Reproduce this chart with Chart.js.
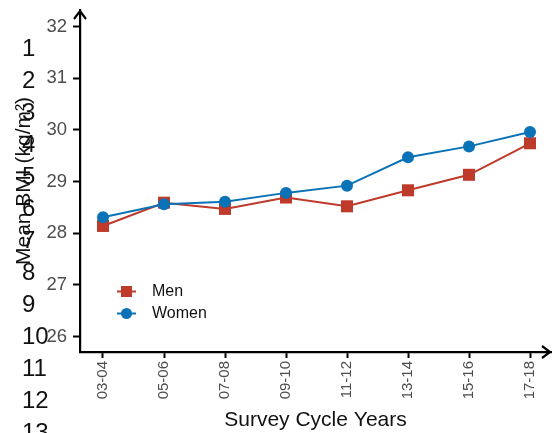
<!DOCTYPE html>
<html>
<head>
<meta charset="utf-8">
<script src="https://cdn.jsdelivr.net/npm/chart.js@4.4.1/dist/chart.umd.min.js"></script>
<style>
  html, body { margin:0; padding:0; background:#fff; overflow:hidden; }
  #wrap { position:relative; width:554px; height:433px; overflow:hidden; }
  canvas { position:absolute; left:0; top:0; }
  #nums { position:absolute; left:22px; top:31.5px; font-family:"Liberation Sans", Arial, sans-serif;
          font-size:24px; line-height:32px; color:#111; white-space:pre; pointer-events:none; }
</style>
</head>
<body>
<div id="wrap">
  <canvas id="c" width="554" height="433"></canvas>
  <div id="nums"></div>
</div>
<script>
const categories = ["03-04","05-06","07-08","09-10","11-12","13-14","15-16","17-18"];
const menValues   = [28.14, 28.59, 28.47, 28.69, 28.52, 28.83, 29.13, 29.74];
const womenValues = [28.31, 28.56, 28.61, 28.78, 28.92, 29.47, 29.68, 29.96];
const yTickValues = [26, 27, 28, 29, 30, 31, 32];
const lineNumbers = ["1","2","3","4","5","6","7","8","9","10","11","12","13"];

document.getElementById('nums').textContent = lineNumbers.join("\n");

const FONT = "'Liberation Sans', Arial, sans-serif";
const MEN = '#BE3A2A', WOMEN = '#0A72B6';

const toPts = arr => arr.map((v, i) => ({ x: i, y: v }));

const decor = {
  id: 'decor',
  afterDraw(chart) {
    const ctx = chart.ctx, a = chart.chartArea;
    ctx.save();
    ctx.strokeStyle = '#000'; ctx.lineWidth = 2.2; ctx.lineCap = 'butt'; ctx.lineJoin = 'miter';
    ctx.beginPath();
    ctx.moveTo(a.left - 6, a.top + 9); ctx.lineTo(a.left, a.top + 1); ctx.lineTo(a.left + 6, a.top + 9);
    ctx.stroke();
    ctx.beginPath();
    ctx.moveTo(a.right - 9, a.bottom - 6); ctx.lineTo(a.right - 1, a.bottom); ctx.lineTo(a.right - 9, a.bottom + 6);
    ctx.stroke();
    const items = chart.data.datasets;
    items.forEach((ds, i) => {
      const y = a.bottom - 60.5 + i * 22;
      const x0 = a.left + 37, x1 = a.left + 56, xm = (x0 + x1) / 2;
      ctx.strokeStyle = ds.borderColor; ctx.lineWidth = 2;
      ctx.beginPath(); ctx.moveTo(x0, y); ctx.lineTo(x1, y); ctx.stroke();
      ctx.fillStyle = ds.backgroundColor;
      ctx.beginPath();
      if (ds.pointStyle === 'rect') {
        ctx.fillRect(xm - 5.5, y - 5.5, 11, 11);
      } else {
        ctx.arc(xm, y, 5.5, 0, Math.PI * 2); ctx.fill();
      }
      ctx.fillStyle = '#111'; ctx.font = '16px ' + FONT; ctx.textBaseline = 'middle'; ctx.textAlign = 'left';
      ctx.fillText(ds.label, a.left + 72, y);
    });
    ctx.restore();
  }
};

function zeroPad(s) { s.paddingLeft = 0; s.paddingRight = 0; s.paddingTop = 0; s.paddingBottom = 0; }

new Chart(document.getElementById('c'), {
  type: 'line',
  data: {
    datasets: [
      { label: 'Men', data: toPts(menValues), borderColor: MEN, backgroundColor: MEN, order: 2,
        pointStyle: 'rect', pointRadius: 8.5, pointHoverRadius: 8.5, borderWidth: 2, pointBorderWidth: 0 },
      { label: 'Women', data: toPts(womenValues), borderColor: WOMEN, backgroundColor: WOMEN, order: 1,
        pointStyle: 'circle', pointRadius: 6, pointHoverRadius: 6, borderWidth: 2, pointBorderWidth: 0 }
    ]
  },
  plugins: [decor],
  options: {
    responsive: false,
    animation: false,
    layout: { autoPadding: false, padding: { top: 10, right: 3, left: 0, bottom: 0 } },
    plugins: { legend: { display: false }, tooltip: { enabled: false } },
    scales: {
      x: {
        type: 'linear', min: -0.377, max: 7.344,
        afterFit(s) { s.height = 81; zeroPad(s); },
        afterBuildTicks(s) { s.ticks = categories.map((_, i) => ({ value: i })); },
        ticks: { callback: (v) => categories[v] ?? '', minRotation: 90, maxRotation: 90, autoSkip: false,
                 color: '#4D4D4D', font: { family: FONT, size: 15 }, padding: 3 },
        grid: { drawOnChartArea: false, drawTicks: true, tickLength: 6, tickColor: '#000', tickWidth: 2 },
        border: { display: true, color: '#000', width: 2.2 },
        title: { display: true, text: 'Survey Cycle Years', color: '#111',
                 font: { family: FONT, size: 21, lineHeight: 1.2 }, padding: { top: 0, bottom: 0 } }
      },
      y: {
        type: 'linear', min: 25.70, max: 32.32,
        afterFit(s) { s.width = 80; zeroPad(s); },
        afterBuildTicks(s) { s.ticks = yTickValues.map(v => ({ value: v })); },
        ticks: { color: '#4D4D4D', font: { family: FONT, size: 18.5 }, padding: 6 },
        grid: { drawOnChartArea: false, drawTicks: true, tickLength: 7, tickColor: '#000', tickWidth: 2 },
        border: { display: true, color: '#000', width: 2.2 },
        title: { display: true, text: 'Mean BMI (kg/m²)', color: '#111',
                 font: { family: FONT, size: 21, lineHeight: 1.2 }, padding: { top: 12, bottom: 0 } }
      }
    }
  }
});
</script>
</body>
</html>
